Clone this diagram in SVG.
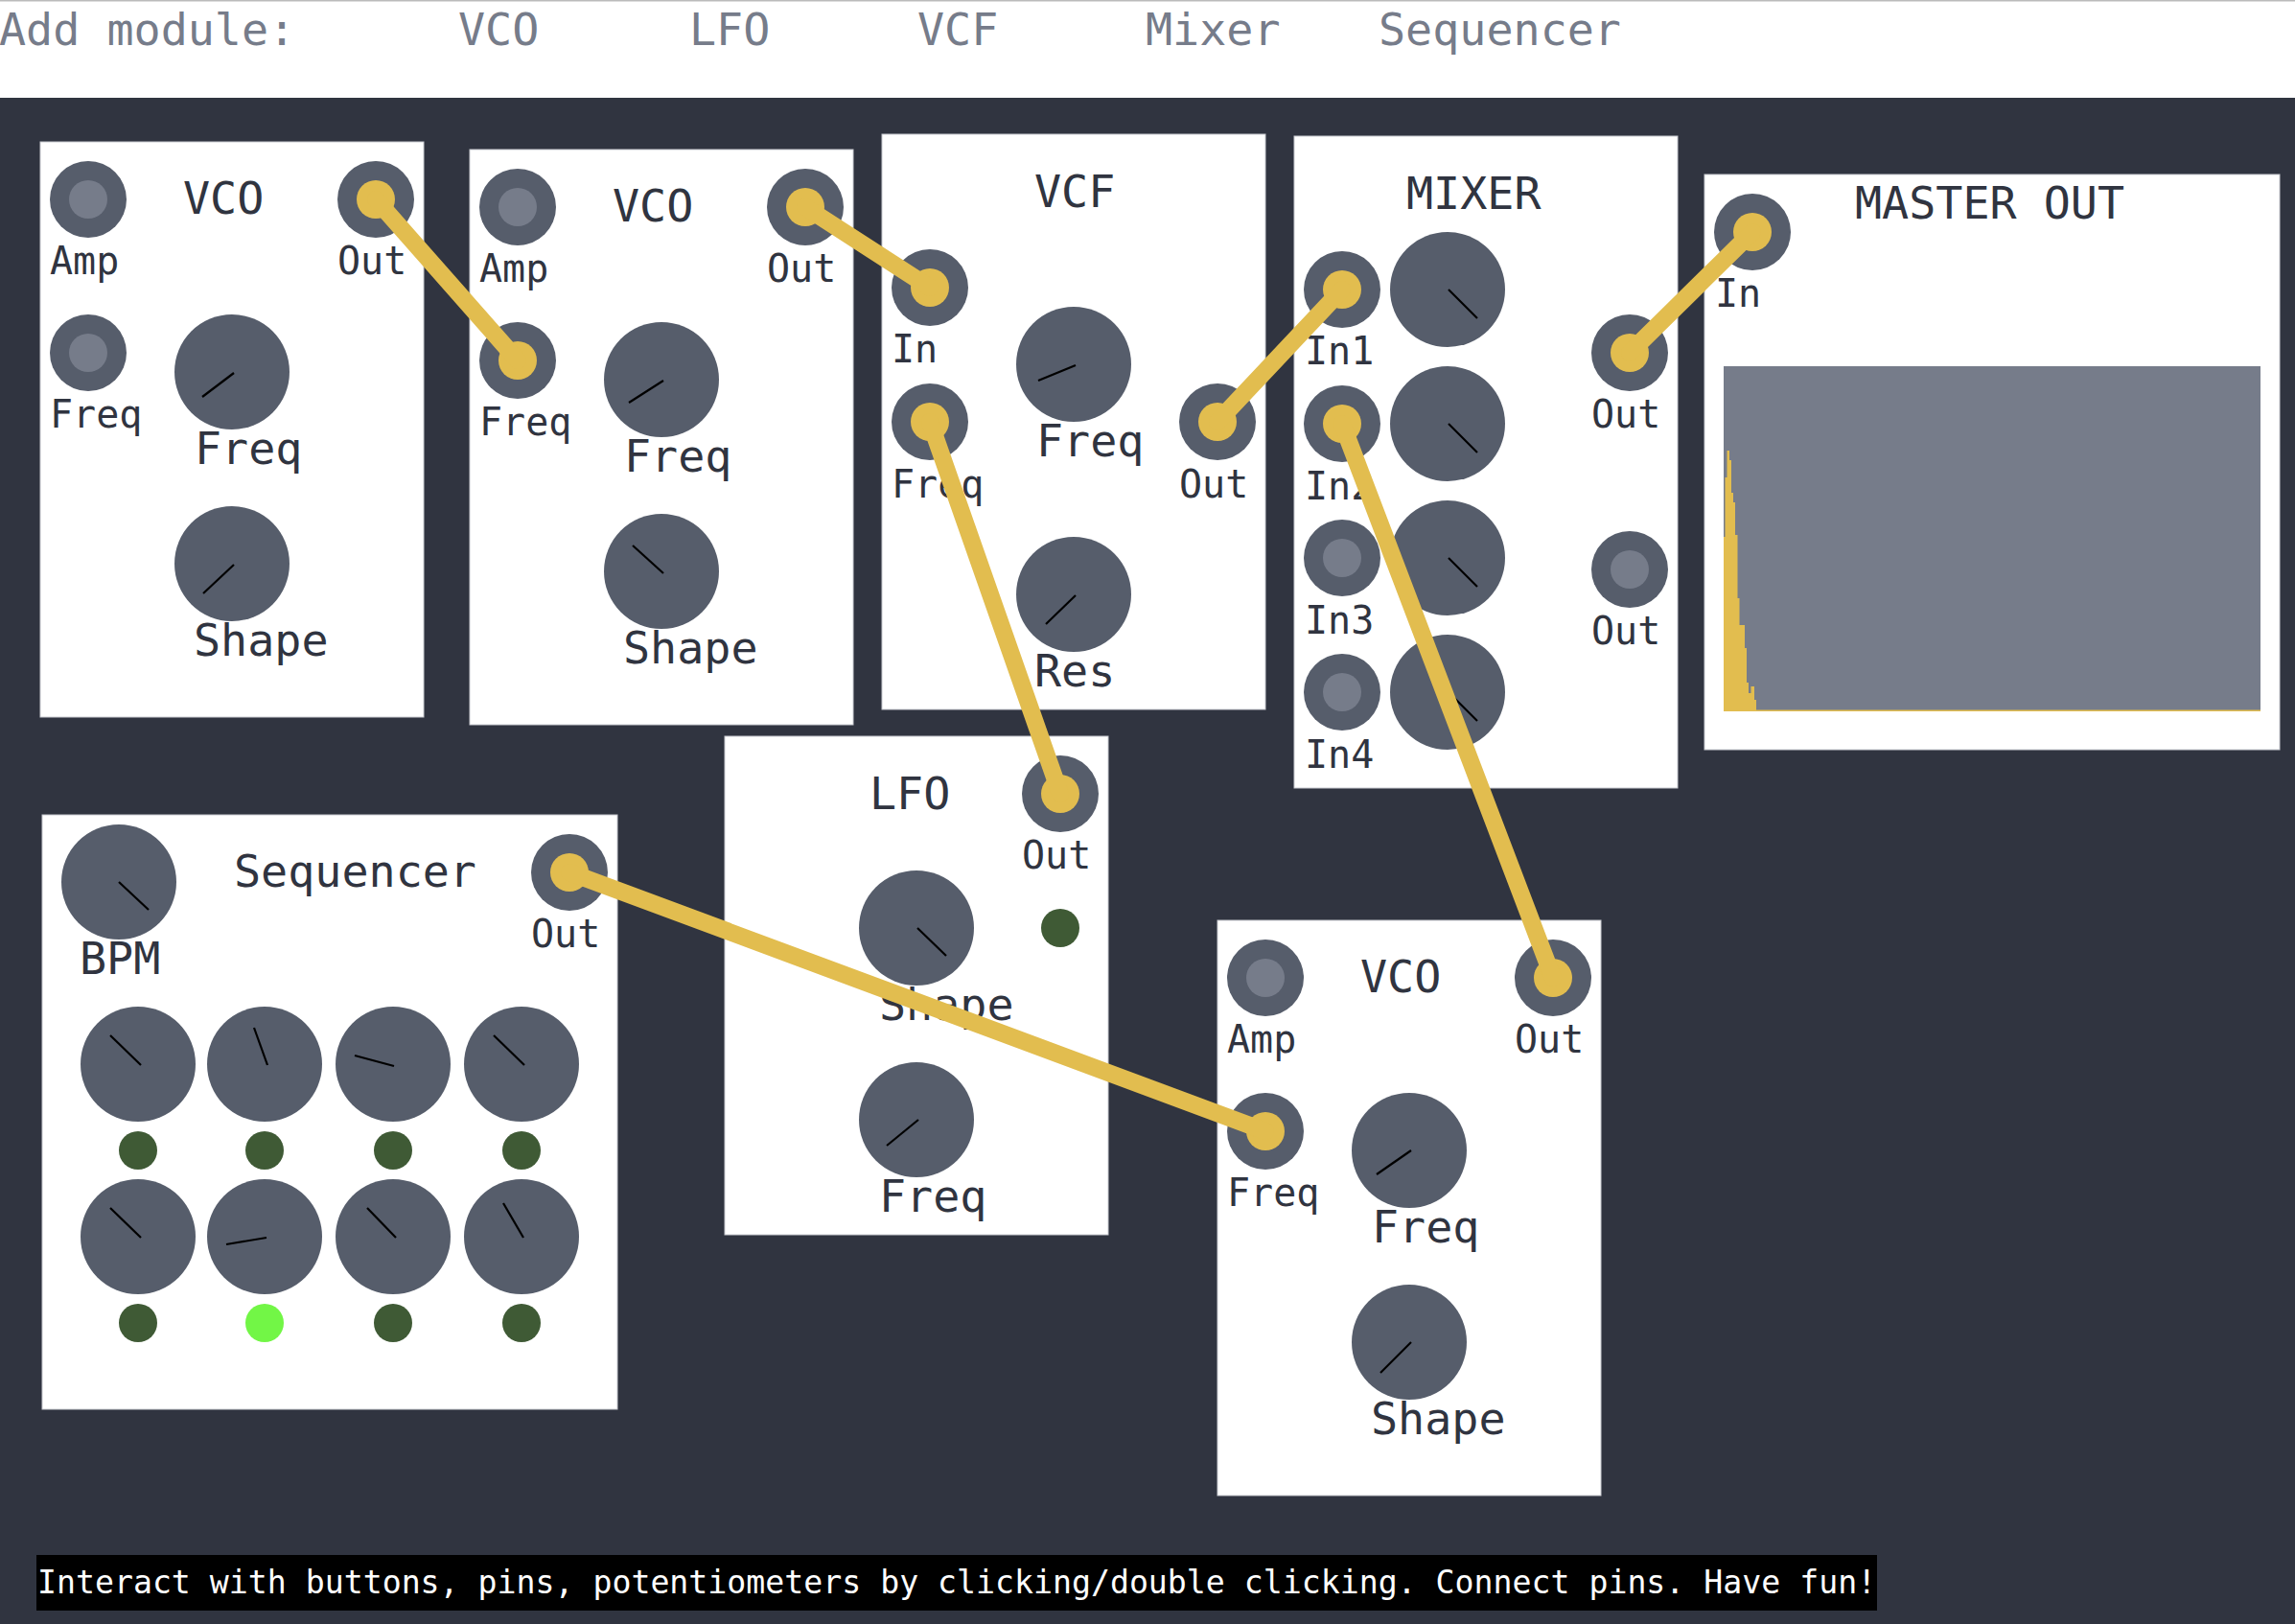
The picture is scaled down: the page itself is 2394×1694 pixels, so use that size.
<svg xmlns="http://www.w3.org/2000/svg" width="2394" height="1694" viewBox="0 0 2394 1694">
<style>
text{font-family:"DejaVu Sans Mono","Liberation Mono",monospace;fill:#303440}
.hd{font-size:46.7px;fill:#767c8a}
.t{font-size:46.7px;transform:translateY(1px)}
.p{font-size:40px;transform:translateY(1px)}
.k{fill:#565d6b}
.pin{fill:#565d6b}
.hole{fill:#767c8a}
.on{fill:#e2bd4f}
.ptr{stroke:#000;stroke-width:2.2;fill:none}
.m{fill:#fff;stroke:#c8cad0;stroke-width:1}
.led{fill:#3f5a35}
.lit{fill:#72f646}
.cable{stroke:#e2bd4f;stroke-width:18;fill:none;stroke-linecap:round}
</style>
<rect width="2394" height="1694" fill="#303440"/>
<g id="toolbar">
<rect width="2394" height="102" fill="#fff"/>
<rect width="2394" height="1.5" fill="#bbbbbb"/>
<text class="hd" x="-1" y="47">Add module:</text>
<text class="hd" x="478" y="47">VCO</text>
<text class="hd" x="719" y="47">LFO</text>
<text class="hd" x="957" y="47">VCF</text>
<text class="hd" x="1195" y="47">Mixer</text>
<text class="hd" x="1438" y="47">Sequencer</text>
</g>
<g id="vco1">
<rect class="m" x="42" y="148" width="400" height="600"/>
<text class="t" x="191" y="222">VCO</text>
<circle class="pin" cx="92" cy="208" r="40"/><circle class="hole" cx="92" cy="208" r="20"/>
<circle class="pin" cx="392" cy="208" r="40"/><circle class="on" cx="392" cy="208" r="20"/>
<circle class="pin" cx="92" cy="368" r="40"/><circle class="hole" cx="92" cy="368" r="20"/>
<text class="p" x="52" y="285">Amp</text><text class="p" x="352" y="285">Out</text><text class="p" x="52" y="445">Freq</text>
<circle class="k" cx="242" cy="388" r="60"/><line class="ptr" x1="244" y1="389" x2="211" y2="414"/>
<circle class="k" cx="242" cy="588" r="60"/><line class="ptr" x1="244" y1="589" x2="212" y2="619"/>
<text class="t" x="203" y="483">Freq</text><text class="t" x="202" y="683">Shape</text>
</g>
<g id="vco2">
<rect class="m" x="490" y="156" width="400" height="600"/>
<text class="t" x="639" y="230">VCO</text>
<circle class="pin" cx="540" cy="216" r="40"/><circle class="hole" cx="540" cy="216" r="20"/>
<circle class="pin" cx="840" cy="216" r="40"/><circle class="on" cx="840" cy="216" r="20"/>
<circle class="pin" cx="540" cy="376" r="40"/><circle class="on" cx="540" cy="376" r="20"/>
<text class="p" x="500" y="293">Amp</text><text class="p" x="800" y="293">Out</text><text class="p" x="500" y="453">Freq</text>
<circle class="k" cx="690" cy="396" r="60"/><line class="ptr" x1="692" y1="397" x2="656" y2="420"/>
<circle class="k" cx="690" cy="596" r="60"/><line class="ptr" x1="692" y1="598" x2="660" y2="569"/>
<text class="t" x="651" y="491">Freq</text><text class="t" x="650" y="691">Shape</text>
</g>
<g id="vcf">
<rect class="m" x="920" y="140" width="400" height="600"/>
<text class="t" x="1079" y="215">VCF</text>
<circle class="pin" cx="970" cy="300" r="40"/><circle class="on" cx="970" cy="300" r="20"/>
<circle class="pin" cx="970" cy="440" r="40"/><circle class="on" cx="970" cy="440" r="20"/>
<circle class="pin" cx="1270" cy="440" r="40"/><circle class="on" cx="1270" cy="440" r="20"/>
<text class="p" x="930" y="377">In</text><text class="p" x="930" y="518">Freq</text><text class="p" x="1230" y="518">Out</text>
<circle class="k" cx="1120" cy="380" r="60"/><line class="ptr" x1="1122" y1="381" x2="1083" y2="397"/>
<circle class="k" cx="1120" cy="620" r="60"/><line class="ptr" x1="1122" y1="621" x2="1091" y2="651"/>
<text class="t" x="1081" y="475">Freq</text><text class="t" x="1079" y="715">Res</text>
</g>
<g id="mixer">
<rect class="m" x="1350" y="142" width="400" height="680"/>
<text class="t" x="1467" y="217">MIXER</text>
<circle class="pin" cx="1400" cy="302" r="40"/><circle class="on" cx="1400" cy="302" r="20"/>
<circle class="pin" cx="1400" cy="442" r="40"/><circle class="on" cx="1400" cy="442" r="20"/>
<circle class="pin" cx="1400" cy="582" r="40"/><circle class="hole" cx="1400" cy="582" r="20"/>
<circle class="pin" cx="1400" cy="722" r="40"/><circle class="hole" cx="1400" cy="722" r="20"/>
<circle class="pin" cx="1700" cy="368" r="40"/><circle class="on" cx="1700" cy="368" r="20"/>
<circle class="pin" cx="1700" cy="594" r="40"/><circle class="hole" cx="1700" cy="594" r="20"/>
<text class="p" x="1361" y="379">In1</text><text class="p" x="1361" y="520">In2</text><text class="p" x="1361" y="660">In3</text><text class="p" x="1361" y="800">In4</text>
<text class="p" x="1660" y="445">Out</text><text class="p" x="1660" y="671">Out</text>
<circle class="k" cx="1510" cy="302" r="60"/><line class="ptr" x1="1511" y1="302" x2="1541" y2="332"/>
<circle class="k" cx="1510" cy="442" r="60"/><line class="ptr" x1="1511" y1="442" x2="1541" y2="472"/>
<circle class="k" cx="1510" cy="582" r="60"/><line class="ptr" x1="1511" y1="582" x2="1541" y2="612"/>
<circle class="k" cx="1510" cy="722" r="60"/><line class="ptr" x1="1511" y1="722" x2="1541" y2="752"/>
</g>
<g id="master-out">
<rect class="m" x="1778" y="182" width="600" height="600"/>
<text class="t" x="1935" y="227">MASTER OUT</text>
<circle class="pin" cx="1828" cy="242" r="40"/><circle class="on" cx="1828" cy="242" r="20"/>
<text class="p" x="1789" y="319">In</text>
<rect x="1798" y="382" width="560" height="360" fill="#767c8a"/>
<path class="on" d="M1798 742V560H1799.5V498H1801.5V470H1804V480H1806V514H1808V524H1810V558H1812.5V624H1814.5V652H1820V676H1822V712H1824V723H1826.5V716H1830V730H1832V740.5H2358V742Z"/>
</g>
<g id="lfo">
<rect class="m" x="756" y="768" width="400" height="520"/>
<text class="t" x="907" y="843">LFO</text>
<circle class="pin" cx="1106" cy="828" r="40"/><circle class="on" cx="1106" cy="828" r="20"/>
<text class="p" x="1066" y="905">Out</text>
<circle class="led" cx="1106" cy="968" r="20"/>
<circle class="k" cx="956" cy="968" r="60"/><line class="ptr" x1="957" y1="968" x2="987" y2="997"/>
<circle class="k" cx="956" cy="1168" r="60"/><line class="ptr" x1="958" y1="1168" x2="925" y2="1195"/>
<text class="t" x="917" y="1063">Shape</text><text class="t" x="917" y="1263">Freq</text>
</g>
<g id="sequencer">
<rect class="m" x="44" y="850" width="600" height="620"/>
<text class="t" x="244" y="924">Sequencer</text>
<circle class="pin" cx="594" cy="910" r="40"/><circle class="on" cx="594" cy="910" r="20"/>
<text class="p" x="554" y="987">Out</text>
<circle class="k" cx="124" cy="920" r="60"/><line class="ptr" x1="124" y1="920" x2="155" y2="949"/>
<text class="t" x="83" y="1015">BPM</text>
<circle class="k" cx="144" cy="1110" r="60"/><line class="ptr" x1="147" y1="1111" x2="115" y2="1080"/>
<circle class="k" cx="276" cy="1110" r="60"/><line class="ptr" x1="279" y1="1111" x2="265" y2="1072"/>
<circle class="k" cx="410" cy="1110" r="60"/><line class="ptr" x1="411" y1="1112" x2="370" y2="1101"/>
<circle class="k" cx="544" cy="1110" r="60"/><line class="ptr" x1="547" y1="1111" x2="515" y2="1080"/>
<circle class="led" cx="144" cy="1200" r="20"/><circle class="led" cx="276" cy="1200" r="20"/><circle class="led" cx="410" cy="1200" r="20"/><circle class="led" cx="544" cy="1200" r="20"/>
<circle class="k" cx="144" cy="1290" r="60"/><line class="ptr" x1="147" y1="1291" x2="115" y2="1260"/>
<circle class="k" cx="276" cy="1290" r="60"/><line class="ptr" x1="278" y1="1291" x2="236" y2="1298"/>
<circle class="k" cx="410" cy="1290" r="60"/><line class="ptr" x1="413" y1="1291" x2="383" y2="1260"/>
<circle class="k" cx="544" cy="1290" r="60"/><line class="ptr" x1="546" y1="1291" x2="525" y2="1255"/>
<circle class="led" cx="144" cy="1380" r="20"/><circle class="lit" cx="276" cy="1380" r="20"/><circle class="led" cx="410" cy="1380" r="20"/><circle class="led" cx="544" cy="1380" r="20"/>
</g>
<g id="vco3">
<rect class="m" x="1270" y="960" width="400" height="600"/>
<text class="t" x="1419" y="1034">VCO</text>
<circle class="pin" cx="1320" cy="1020" r="40"/><circle class="hole" cx="1320" cy="1020" r="20"/>
<circle class="pin" cx="1620" cy="1020" r="40"/><circle class="on" cx="1620" cy="1020" r="20"/>
<circle class="pin" cx="1320" cy="1180" r="40"/><circle class="on" cx="1320" cy="1180" r="20"/>
<text class="p" x="1280" y="1097">Amp</text><text class="p" x="1580" y="1097">Out</text><text class="p" x="1280" y="1257">Freq</text>
<circle class="k" cx="1470" cy="1200" r="60"/><line class="ptr" x1="1472" y1="1200" x2="1436" y2="1225"/>
<circle class="k" cx="1470" cy="1400" r="60"/><line class="ptr" x1="1472" y1="1400" x2="1440" y2="1432"/>
<text class="t" x="1431" y="1295">Freq</text><text class="t" x="1430" y="1495">Shape</text>
</g>
<g id="connectors">
<line class="cable" x1="392" y1="208" x2="540" y2="376"/>
<line class="cable" x1="840" y1="216" x2="970" y2="300"/>
<line class="cable" x1="1106" y1="828" x2="970" y2="440"/>
<line class="cable" x1="1270" y1="440" x2="1400" y2="302"/>
<line class="cable" x1="1400" y1="442" x2="1620" y2="1020"/>
<line class="cable" x1="1700" y1="368" x2="1828" y2="242"/>
<line class="cable" x1="594" y1="910" x2="1320" y2="1180"/>
</g>
<g id="status">
<rect x="38" y="1622" width="1920" height="58" fill="#000"/>
<text x="39" y="1662" style="font-size:33.2px;fill:#fff">Interact with buttons, pins, potentiometers by clicking/double clicking. Connect pins. Have fun!</text>
</g>
</svg>
